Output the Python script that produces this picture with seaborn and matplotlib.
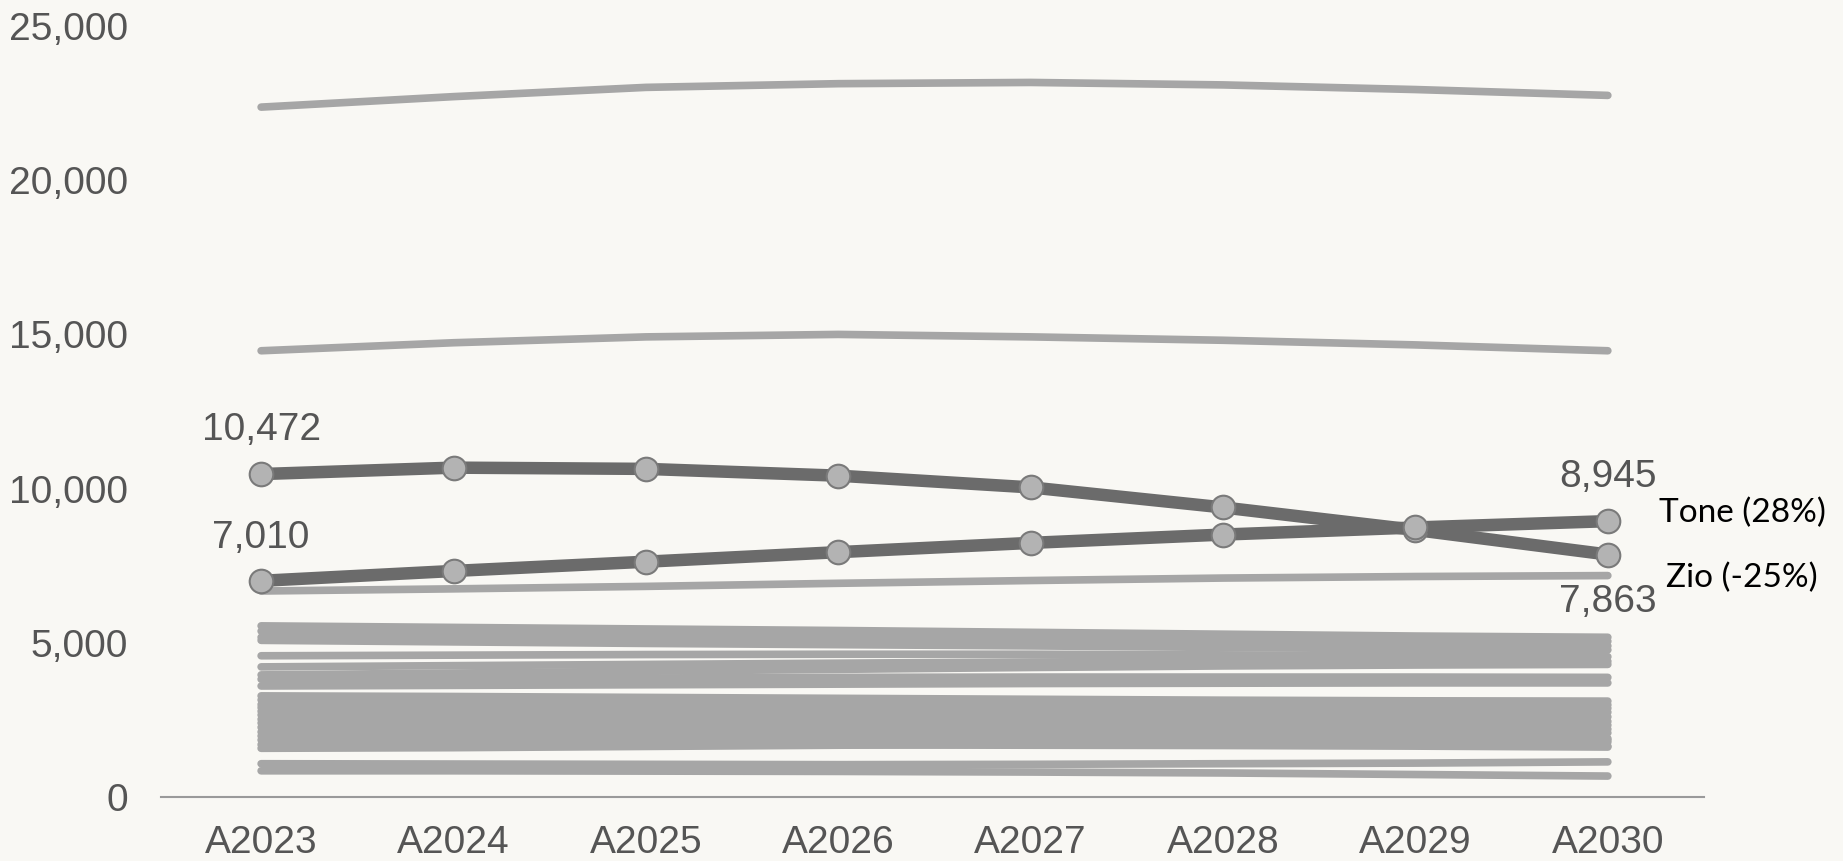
import matplotlib
matplotlib.use("Agg")
import matplotlib.pyplot as plt
import seaborn as sns
import pandas as pd

# Years on the x axis
years = ["A2023", "A2024", "A2025", "A2026", "A2027", "A2028", "A2029", "A2030"]

# Highlighted series
zio = [10472, 10680, 10640, 10420, 10040, 9390, 8660, 7863]
tone = [7010, 7330, 7630, 7940, 8240, 8510, 8740, 8945]

# Background series
bg_a = [22370, 22710, 23010, 23130, 23170, 23090, 22940, 22750]
bg_b = [14470, 14730, 14920, 15000, 14920, 14810, 14660, 14470]
bg_c = [6680, 6750, 6830, 6930, 7020, 7100, 7150, 7180]
bg_01 = [5550, 5500, 5450, 5400, 5340, 5280, 5220, 5180]
bg_02 = [5380, 5350, 5320, 5280, 5230, 5170, 5100, 5050]
bg_03 = [5180, 5150, 5120, 5080, 5030, 4980, 4930, 4900]
bg_04 = [5080, 5030, 4980, 4940, 4900, 4850, 4800, 4770]
bg_05 = [4580, 4600, 4620, 4630, 4630, 4610, 4580, 4550]
bg_06 = [4220, 4260, 4300, 4340, 4380, 4400, 4400, 4400]
bg_07 = [3960, 4020, 4080, 4140, 4200, 4250, 4280, 4300]
bg_08 = [3820, 3840, 3860, 3880, 3890, 3890, 3890, 3880]
bg_09 = [3600, 3620, 3640, 3660, 3680, 3690, 3700, 3700]
bg_10 = [3280, 3260, 3230, 3200, 3170, 3140, 3120, 3110]
bg_11 = [3150, 3120, 3090, 3060, 3040, 3020, 3000, 2990]
bg_12 = [3000, 2990, 2970, 2950, 2930, 2910, 2890, 2880]
bg_13 = [2900, 2860, 2830, 2800, 2780, 2760, 2750, 2750]
bg_14 = [2780, 2740, 2700, 2670, 2640, 2620, 2600, 2600]
bg_15 = [2660, 2620, 2580, 2540, 2500, 2470, 2450, 2450]
bg_16 = [2520, 2490, 2460, 2430, 2400, 2370, 2350, 2330]
bg_17 = [2400, 2380, 2350, 2320, 2290, 2260, 2230, 2200]
bg_18 = [2260, 2240, 2210, 2180, 2150, 2120, 2100, 2080]
bg_19 = [2110, 2090, 2060, 2030, 2000, 1970, 1940, 1900]
bg_20 = [1980, 1960, 1930, 1900, 1870, 1840, 1810, 1780]
bg_21 = [1850, 1830, 1800, 1770, 1740, 1710, 1680, 1650]
bg_22 = [1700, 1700, 1700, 1690, 1680, 1670, 1650, 1620]
bg_23 = [1580, 1600, 1640, 1680, 1720, 1760, 1800, 1850]
bg_24 = [1080, 1070, 1060, 1050, 1060, 1080, 1100, 1140]
bg_25 = [850, 850, 840, 830, 810, 780, 730, 680]

background = [bg_a, bg_b, bg_c, bg_01, bg_02, bg_03, bg_04, bg_05, bg_06, bg_07,
              bg_08, bg_09, bg_10, bg_11, bg_12, bg_13, bg_14, bg_15, bg_16,
              bg_17, bg_18, bg_19, bg_20, bg_21, bg_22, bg_23, bg_24, bg_25]

y_ticks = [0, 5000, 10000, 15000, 20000, 25000]

BG = "#f9f8f4"
GRAY = "#a6a6a6"
DARK = "#6b6b6b"
TEXT = "#555555"

sns.set_theme(style="white")
plt.rcParams["font.family"] = ["Liberation Sans", "DejaVu Sans"]

rows = []
for i, series in enumerate(background):
    for j, v in enumerate(series):
        rows.append({"series": f"s{i}", "x": j, "value": v})
df_bg = pd.DataFrame(rows)

fig = plt.figure(figsize=(18.43, 8.61), dpi=100, facecolor=BG)
ax = fig.add_axes([0.0874, 0.0743, 0.9246 - 0.0874, 0.9698 - 0.0743])
ax.set_facecolor(BG)

sns.lineplot(data=df_bg, x="x", y="value", units="series", estimator=None,
             color=GRAY, linewidth=5.5, ax=ax, legend=False,
             solid_capstyle="round")

for series in (zio, tone):
    d = pd.DataFrame({"x": range(len(years)), "value": series})
    sns.lineplot(data=d, x="x", y="value", color=DARK, linewidth=9,
                 marker="o", markersize=17, markerfacecolor="#b3b3b3",
                 markeredgecolor="#7a7a7a", markeredgewidth=1.5,
                 ax=ax, legend=False, solid_capstyle="round")

ax.set_xlim(-0.52, 7.5)
ax.set_ylim(0, 25000)
ax.set_xticks(range(len(years)))
ax.set_xticklabels(years)
ax.set_yticks(y_ticks)
ax.set_yticklabels([f"{t:,}" for t in y_ticks])
ax.set_xlabel("")
ax.set_ylabel("")
ax.tick_params(axis="both", length=0, labelsize=28, labelcolor=TEXT)
ax.tick_params(axis="x", pad=20)
ax.tick_params(axis="y", pad=24)

for side in ("top", "right", "left"):
    ax.spines[side].set_visible(False)
ax.spines["bottom"].set_color("#9a9a9a")
ax.spines["bottom"].set_linewidth(1.5)

# Value labels at the ends of the highlighted series
ax.annotate(f"{zio[0]:,}", (0, zio[0]), xytext=(0, 32), textcoords="offset points",
            ha="center", va="center", fontsize=28, color=TEXT)
ax.annotate(f"{tone[0]:,}", (0, tone[0]), xytext=(0, 31), textcoords="offset points",
            ha="center", va="center", fontsize=28, color=TEXT)
ax.annotate(f"{tone[-1]:,}", (7, tone[-1]), xytext=(0, 32), textcoords="offset points",
            ha="center", va="center", fontsize=28, color=TEXT)
ax.annotate(f"{zio[-1]:,}", (7, zio[-1]), xytext=(0, -34), textcoords="offset points",
            ha="center", va="center", fontsize=28, color=TEXT)

# Series names with change over the period
tone_pct = round((tone[-1] / tone[0] - 1) * 100)
zio_pct = round((zio[-1] / zio[0] - 1) * 100)
ax.annotate(f"Tone ({tone_pct}%)", (7, tone[-1]), xytext=(37, 6), textcoords="offset points",
            ha="left", va="center", fontsize=24, color="black", family=["Lato", "DejaVu Sans"])
ax.annotate(f"Zio ({zio_pct}%)", (7, zio[-1]), xytext=(42, -17), textcoords="offset points",
            ha="left", va="center", fontsize=24, color="black", family=["Lato", "DejaVu Sans"])

fig.savefig("out.png", dpi=100, facecolor=BG)
